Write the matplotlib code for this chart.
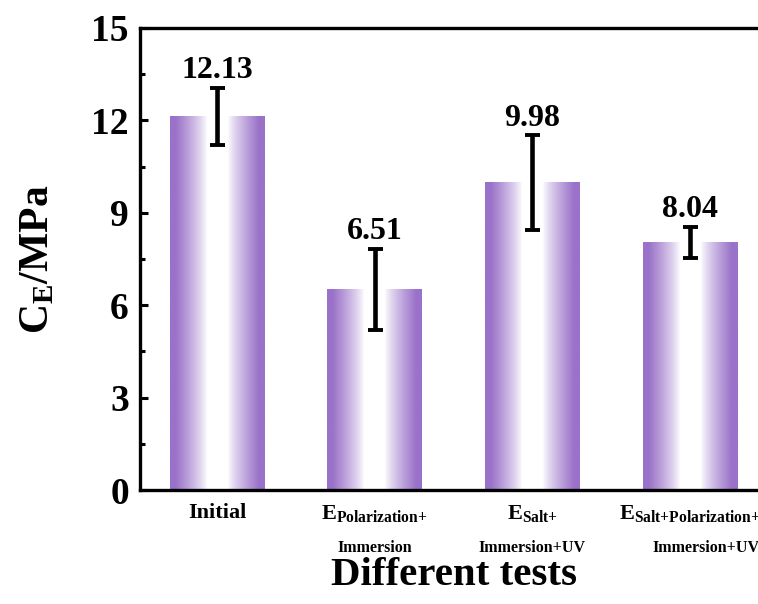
import numpy as np
import matplotlib.pyplot as plt
from matplotlib.colors import to_rgb

# fuente tipo Times en negrita para todo el grafico
plt.rcParams['font.family'] = 'Liberation Serif'
plt.rcParams['font.weight'] = 'bold'
plt.rcParams['mathtext.fontset'] = 'custom'
plt.rcParams['mathtext.rm'] = 'Liberation Serif:bold'
plt.rcParams['mathtext.bf'] = 'Liberation Serif:bold'
plt.rcParams['mathtext.it'] = 'Liberation Serif:bold:italic'

# datos de cada ensayo
ensayos = ['Initial',
           r'$\mathrm{E_{Polarization{+}}}$',
           r'$\mathrm{E_{Salt{+}}}$',
           r'$\mathrm{E_{Salt{+}Polarization{+}}}$']
segunda_linea = ['', 'Immersion', 'Immersion+UV', 'Immersion+UV']
valores = [12.13, 6.51, 9.98, 8.04]
errores = [0.92, 1.33, 1.53, 0.50]

morado = np.array(to_rgb('#9a72c9'))
blanco = np.ones(3)

fig = plt.figure(figsize=(7.58, 6.04), dpi=100)
ax = fig.add_axes([0.1847, 0.1887, 0.8294, 0.765])

x = np.arange(1, len(valores) + 1)
barras = ax.bar(x, valores, width=0.6, color='none', edgecolor='none')

# degradado horizontal: morado en los bordes, blanco al centro
u = np.linspace(0, 1, 256)
t = np.clip((np.abs(2 * u - 1) - 0.22) / 0.66, 0, 1) ** 0.8
grad = blanco + t[:, None] * (morado - blanco)
grad = grad[None, :, :]
for b in barras:
    x0, w, h = b.get_x(), b.get_width(), b.get_height()
    ax.imshow(grad, extent=[x0, x0 + w, 0, h], aspect='auto',
              interpolation='bilinear', zorder=2)

ax.errorbar(x, valores, yerr=errores, fmt='none', ecolor='k',
            elinewidth=3.3, capsize=5.4, capthick=2.8, zorder=3)

for xi, v, e in zip(x, valores, errores):
    ax.annotate(f"{v:.2f}", (xi, v + e), xytext=(0, 2), textcoords='offset points',
                ha='center', va='bottom', fontsize=23, fontweight='bold')

ax.set_xlim(0.511, 4.5)
ax.set_ylim(0, 15)
ax.set_yticks(np.arange(0, 16, 3))
ax.set_yticks(np.arange(1.5, 15, 3), minor=True)
ax.tick_params(axis='y', which='major', direction='in', length=6, width=2.2,
               labelsize=27, pad=8)
ax.tick_params(axis='y', which='minor', direction='in', length=3.5, width=2.2)

ax.set_xticks(x, ensayos)
ax.tick_params(axis='x', length=0, labelsize=16, pad=9)

for xi, txt, dx in zip(x, segunda_linea, [0, 0, 0, 0.1]):
    if txt:
        ax.text(xi + dx, -0.125, txt, transform=ax.get_xaxis_transform(),
                ha='center', va='center', fontsize=11.5, fontweight='bold')

for lado in ['left', 'bottom', 'top', 'right']:
    ax.spines[lado].set_linewidth(2.4)

ax.set_xlabel('Different tests', fontsize=29.5, fontweight='bold')
ax.xaxis.set_label_coords(0.5, -0.146)
ax.set_ylabel(r'$\mathrm{C_E/MPa}$', fontsize=30)
ax.yaxis.set_label_coords(-0.132, 0.5)

fig.savefig('out.png', dpi=100)
